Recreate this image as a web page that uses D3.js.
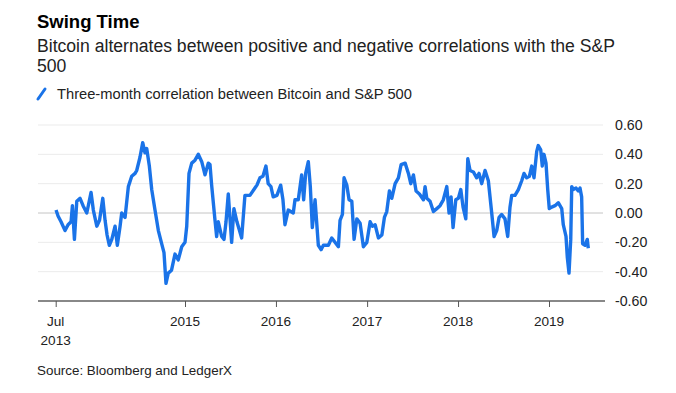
<!DOCTYPE html>
<html><head><meta charset="utf-8">
<script src="https://cdn.jsdelivr.net/npm/d3@7/dist/d3.min.js"></script>
<style>body{margin:0;background:#fff;}svg{display:block;font-family:"Liberation Sans",Arial,sans-serif;}</style>
</head><body>
<svg id="c" width="676" height="393"></svg>
<script>
const title = "Swing Time";
const subtitleLines = ["Bitcoin alternates between positive and negative correlations with the S&P", "500"];
const legendLabel = "Three-month correlation between Bitcoin and S&P 500";
const source = "Source: Bloomberg and LedgerX";
const yTicks = [0.6, 0.4, 0.2, 0, -0.2, -0.4, -0.6];
const xTickDates = ["2013-07-31", "2015-01-01", "2016-01-01", "2017-01-01", "2018-01-01", "2019-01-01"];
const xTickLabels = [["Jul", "2013"], ["2015"], ["2016"], ["2017"], ["2018"], ["2019"]];
// decimal years
const years = [2013.582,2013.604,2013.637,2013.681,2013.714,2013.747,2013.762,2013.784,2013.810,2013.846,2013.879,2013.920,2013.967,2013.992,2014.030,2014.060,2014.096,2014.121,2014.143,2014.168,2014.195,2014.231,2014.256,2014.286,2014.304,2014.341,2014.377,2014.414,2014.451,2014.469,2014.505,2014.535,2014.560,2014.579,2014.608,2014.634,2014.670,2014.707,2014.744,2014.769,2014.791,2014.816,2014.852,2014.890,2014.926,2014.964,2015.000,2015.019,2015.044,2015.074,2015.110,2015.146,2015.184,2015.220,2015.256,2015.275,2015.293,2015.330,2015.348,2015.366,2015.403,2015.429,2015.451,2015.476,2015.513,2015.538,2015.571,2015.604,2015.623,2015.659,2015.714,2015.769,2015.791,2015.824,2015.857,2015.890,2015.915,2015.945,2015.970,2016.011,2016.052,2016.077,2016.099,2016.135,2016.190,2016.209,2016.245,2016.282,2016.304,2016.326,2016.355,2016.377,2016.399,2016.429,2016.465,2016.495,2016.520,2016.575,2016.612,2016.648,2016.685,2016.703,2016.729,2016.747,2016.777,2016.802,2016.832,2016.857,2016.887,2016.923,2016.959,2016.997,2017.033,2017.058,2017.088,2017.124,2017.162,2017.190,2017.216,2017.245,2017.271,2017.308,2017.344,2017.374,2017.418,2017.454,2017.480,2017.509,2017.538,2017.575,2017.619,2017.637,2017.656,2017.692,2017.729,2017.766,2017.802,2017.838,2017.876,2017.901,2017.923,2017.945,2017.975,2018.003,2018.030,2018.055,2018.085,2018.107,2018.132,2018.168,2018.205,2018.231,2018.260,2018.297,2018.333,2018.370,2018.396,2018.425,2018.451,2018.480,2018.516,2018.546,2018.571,2018.590,2018.626,2018.663,2018.700,2018.725,2018.755,2018.784,2018.810,2018.835,2018.865,2018.882,2018.909,2018.926,2018.945,2018.967,2018.986,2019.003,2019.030,2019.066,2019.102,2019.140,2019.157,2019.187,2019.201,2019.220,2019.239,2019.250,2019.267,2019.297,2019.322,2019.341,2019.359,2019.370,2019.396,2019.421,2019.432];
const corr = [0.02,-0.02,-0.06,-0.12,-0.08,-0.06,0.05,-0.18,0.08,0.10,0.05,0.00,0.14,0.02,-0.09,-0.05,0.10,-0.05,-0.15,-0.22,-0.18,-0.09,-0.22,-0.09,0.00,-0.03,0.18,0.25,0.27,0.29,0.38,0.48,0.41,0.44,0.32,0.16,0.02,-0.12,-0.21,-0.27,-0.48,-0.41,-0.39,-0.28,-0.32,-0.23,-0.20,-0.09,0.27,0.34,0.36,0.40,0.35,0.26,0.34,0.33,0.19,-0.05,-0.16,-0.06,-0.16,-0.18,-0.06,0.13,-0.20,0.03,-0.06,-0.13,-0.17,0.12,0.12,0.17,0.19,0.24,0.25,0.32,0.20,0.18,0.11,0.12,0.19,0.09,-0.08,0.02,0.00,0.09,0.09,0.26,0.09,0.27,0.35,0.18,-0.10,0.09,-0.22,-0.25,-0.22,-0.22,-0.17,-0.20,-0.23,-0.05,-0.01,0.24,0.19,0.09,0.08,-0.18,-0.04,-0.07,-0.23,-0.20,-0.06,-0.09,-0.08,-0.17,-0.15,-0.03,0.01,0.15,0.10,0.20,0.24,0.33,0.34,0.27,0.20,0.26,0.15,0.13,0.09,0.18,0.10,0.08,0.01,0.03,0.05,0.09,0.18,0.00,0.11,-0.10,0.09,0.10,0.16,0.04,-0.04,0.37,0.29,0.28,0.24,0.27,0.20,0.29,0.22,0.00,-0.16,-0.12,-0.03,-0.01,-0.04,-0.16,0.04,0.12,0.12,0.16,0.22,0.27,0.24,0.25,0.32,0.24,0.42,0.46,0.43,0.32,0.40,0.34,0.16,0.03,0.04,0.05,0.07,0.03,-0.08,-0.16,-0.30,-0.41,-0.18,0.18,0.16,0.17,0.15,0.17,0.11,-0.21,-0.22,-0.18,-0.24];

function yearToDate(y){ const yr=Math.floor(y); const s=Date.UTC(yr,0,1), e=Date.UTC(yr+1,0,1); return new Date(s+(y-yr)*(e-s)); }
const data = years.map((y,i)=>({d:yearToDate(y), v:corr[i]}));

const svg = d3.select("#c");
const L=38, R=605, GR=603, T=125, B=301;
const x = d3.scaleUtc().domain([new Date(Date.UTC(2015,0,1)), new Date(Date.UTC(2019,0,1))]).range([185,549]);
const y = d3.scaleLinear().domain([-0.6,0.6]).range([B,T]);

svg.append("text").attr("x",37).attr("y",28).attr("font-size",18.5).attr("font-weight","bold").attr("fill","#000").text(title);
subtitleLines.forEach((s,i)=>svg.append("text").attr("x",37).attr("y",52+i*20).attr("font-size",17.6).attr("fill","#222").text(s));
svg.append("line").attr("x1",38).attr("y1",99).attr("x2",45).attr("y2",89).attr("stroke","#1a73e8").attr("stroke-width",3).attr("stroke-linecap","round");
svg.append("text").attr("x",57).attr("y",99).attr("font-size",14.7).attr("fill","#222").text(legendLabel);

// grid
const g = svg.append("g");
yTicks.forEach(t=>{
  if (t===-0.6) return;
  g.append("line").attr("x1",L).attr("x2",GR).attr("y1",y(t)).attr("y2",y(t))
   .attr("stroke", t===0 ? "#c4c4c4" : "#ebebeb").attr("stroke-width",1);
});
// y labels
yTicks.forEach(t=>{
  svg.append("text").attr("x",615).attr("y",y(t)).attr("dy","0.35em").attr("font-size",14.2).attr("fill","#222").text(d3.format(".2f")(t).replace("−","-"));
});

// line
svg.append("path").datum(data).attr("fill","none").attr("stroke","#1a73e8").attr("stroke-width",3.4).attr("stroke-linejoin","round")
  .attr("d", d3.line().x(d=>x(d.d)).y(d=>y(d.v)));

// x axis
const xTicks = xTickDates.map(s=>new Date(s+"T00:00:00Z"));
const ax = svg.append("g").attr("transform",`translate(0,${B})`)
  .call(d3.axisBottom(x).tickValues(xTicks).tickSize(6).tickFormat(""));
ax.select(".domain").attr("d",`M${L},0H${R}`).attr("stroke","#888").attr("stroke-width",2);
ax.selectAll(".tick line").attr("stroke","#555").attr("stroke-width",1);
xTicks.forEach((d,i)=>{
  xTickLabels[i].forEach((s,j)=>{
    svg.append("text").attr("x",x(d)).attr("y",326+j*18.5).attr("text-anchor","middle").attr("font-size",13.6).attr("fill","#222").text(s);
  });
});
svg.append("text").attr("x",37).attr("y",375).attr("font-size",13.4).attr("fill","#222").text(source);
</script>
</body></html>
